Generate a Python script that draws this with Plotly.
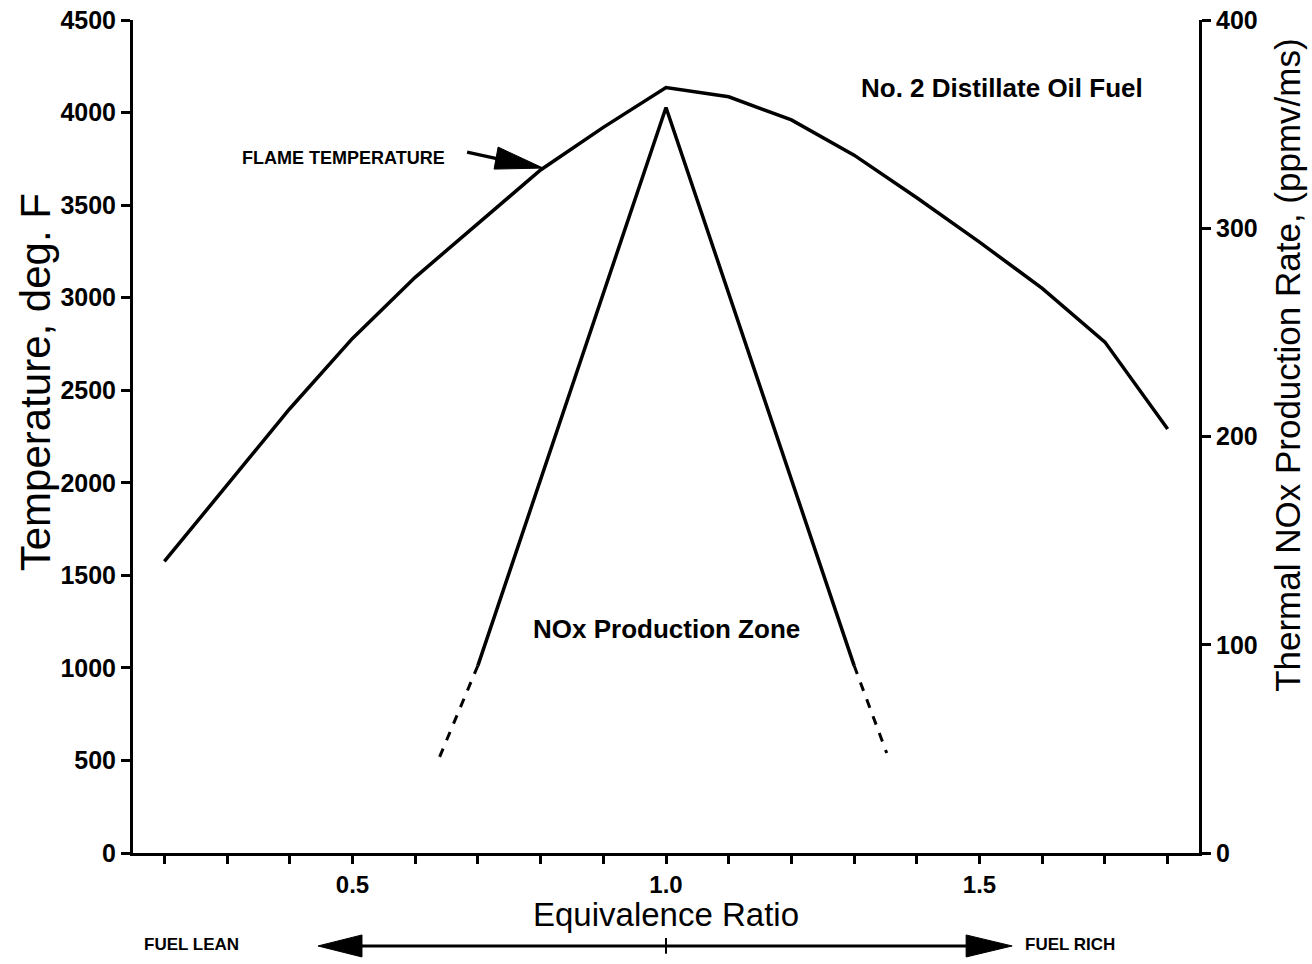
import plotly.graph_objects as go

# Data
eq_ratio = [0.2, 0.3, 0.4, 0.5, 0.6, 0.7, 0.8, 0.9, 1.0, 1.1, 1.2, 1.3, 1.4, 1.5, 1.6, 1.7, 1.8]
flame_temp = [1575, 1990, 2400, 2780, 3110, 3400, 3690, 3920, 4135, 4085, 3960, 3770, 3540, 3300, 3050, 2760, 2290]

nox_x = [0.7, 1.0, 1.3]
nox_y = [90, 358, 90]
nox_lean_x = [0.7, 0.636]
nox_lean_y = [90, 44]
nox_rich_x = [1.3, 1.352]
nox_rich_y = [90, 48]

x_ticks = [0.2, 0.3, 0.4, 0.5, 0.6, 0.7, 0.8, 0.9, 1.0, 1.1, 1.2, 1.3, 1.4, 1.5, 1.6, 1.7, 1.8]
x_labels = ["", "", "", "0.5", "", "", "", "", "1.0", "", "", "", "", "1.5", "", "", ""]

FONT = "Liberation Sans"

fig = go.Figure()
fig.add_trace(go.Scatter(x=eq_ratio, y=flame_temp, mode="lines",
                         line=dict(color="black", width=3.5), yaxis="y"))
fig.add_trace(go.Scatter(x=nox_x, y=nox_y, mode="lines",
                         line=dict(color="black", width=3.5), yaxis="y2"))
fig.add_trace(go.Scatter(x=nox_lean_x, y=nox_lean_y, mode="lines",
                         line=dict(color="black", width=3, dash="dash"), yaxis="y2"))
fig.add_trace(go.Scatter(x=nox_rich_x, y=nox_rich_y, mode="lines",
                         line=dict(color="black", width=3, dash="dash"), yaxis="y2"))

tickfont = dict(family=FONT, size=25, color="black", weight="bold")
xtickfont = dict(family=FONT, size=24, color="black", weight="bold")

fig.update_layout(
    width=1312, height=964,
    margin=dict(l=133, r=113, t=20, b=111, autoexpand=False),
    paper_bgcolor="white", plot_bgcolor="white",
    showlegend=False,
    xaxis=dict(range=[0.15, 1.85], tickvals=x_ticks, ticktext=x_labels,
               ticks="outside", ticklen=8, tickwidth=2.5, tickcolor="black",
               showline=True, linewidth=3, linecolor="black", showgrid=False,
               zeroline=False, tickfont=xtickfont, ticklabeloverflow="allow",
               automargin=False),
    yaxis=dict(range=[0, 4500], dtick=500, ticks="outside", ticklen=9, tickwidth=2.5,
               tickcolor="black", showline=True, linewidth=3, linecolor="black",
               showgrid=False, zeroline=False, tickfont=tickfont,
               ticklabeloverflow="allow", automargin=False),
    yaxis2=dict(range=[0, 400], dtick=100, overlaying="y", side="right",
                ticks="outside", ticklen=9, tickwidth=2.5, tickcolor="black",
                showline=True, linewidth=3, linecolor="black", showgrid=False,
                zeroline=False, tickfont=tickfont, ticklabeloverflow="allow",
                automargin=False),
)

# Axis titles
fig.add_annotation(x=-0.092, y=0.565, xref="paper", yref="paper",
                   text="Temperature, deg. F", textangle=-90, showarrow=False,
                   xanchor="center", yanchor="middle",
                   font=dict(family=FONT, size=42, color="black"))
fig.add_annotation(x=1.0835, y=0.586, xref="paper", yref="paper",
                   text="Thermal NOx Production Rate, (ppmv/ms)", textangle=-90,
                   showarrow=False, xanchor="center", yanchor="middle",
                   font=dict(family=FONT, size=35, color="black"))
fig.add_annotation(x=1.0, y=-0.0735, xref="x", yref="paper", text="Equivalence Ratio",
                   showarrow=False, xanchor="center", yanchor="middle",
                   font=dict(family=FONT, size=33, color="black"))

annfont = dict(family=FONT, size=26, color="black", weight="bold")
smallfont = dict(family=FONT, size=17, color="black", weight="bold")

fig.add_annotation(x=1.308, y=4135, xref="x", yref="y", text="No. 2 Distillate Oil Fuel",
                   showarrow=False, xanchor="left", yanchor="middle", font=annfont)
fig.add_annotation(x=1.0, y=1210, xref="x", yref="y", text="NOx Production Zone",
                   showarrow=False, xanchor="center", yanchor="middle", font=annfont)
fig.add_annotation(x=0.651, y=3755, xref="x", yref="y", text="FLAME TEMPERATURE",
                   showarrow=False, xanchor="right", yanchor="middle",
                   font=dict(family=FONT, size=18, color="black", weight="bold"))

# Flame temperature pointer (tip on the curve)
tip_x, tip_y = 0.804, 3700
fig.add_shape(type="line", xref="x", yref="y", xsizemode="pixel", ysizemode="pixel",
              xanchor=tip_x, yanchor=tip_y, x0=-76, y0=16, x1=-44, y1=9,
              line=dict(color="black", width=3.5))
fig.add_shape(type="path", xref="x", yref="y", xsizemode="pixel", ysizemode="pixel",
              xanchor=tip_x, yanchor=tip_y,
              path="M 0,0 L -45,21 L -49,-1 Z",
              fillcolor="black", line=dict(color="black", width=1))

# Fuel lean / rich double arrow
arrow_y = -0.1116
lean_tip, rich_tip = 0.445, 1.552
fig.add_shape(type="line", xref="x", yref="paper", x0=0.5, x1=1.5, y0=arrow_y, y1=arrow_y,
              line=dict(color="black", width=3))
fig.add_shape(type="path", xref="x", yref="paper", xsizemode="pixel", ysizemode="pixel",
              xanchor=lean_tip, yanchor=arrow_y, path="M 0,0 L 44,11 L 44,-11 Z",
              fillcolor="black", line=dict(color="black", width=1))
fig.add_shape(type="path", xref="x", yref="paper", xsizemode="pixel", ysizemode="pixel",
              xanchor=rich_tip, yanchor=arrow_y, path="M 0,0 L -46,11 L -46,-11 Z",
              fillcolor="black", line=dict(color="black", width=1))
fig.add_shape(type="line", xref="x", yref="paper", x0=1.0, x1=1.0, y0=-0.102, y1=-0.121,
              line=dict(color="black", width=2))
fig.add_annotation(x=0.2425, y=arrow_y, xref="x", yref="paper", text="FUEL LEAN",
                   showarrow=False, xanchor="center", yanchor="middle", font=smallfont,
                   yshift=1)
fig.add_annotation(x=1.644, y=arrow_y, xref="x", yref="paper", text="FUEL RICH",
                   showarrow=False, xanchor="center", yanchor="middle", font=smallfont,
                   yshift=1)

fig.write_html("out.html", config={"displayModeBar": False},
               post_script="document.body.style.margin='0';document.body.style.overflow='hidden';")
